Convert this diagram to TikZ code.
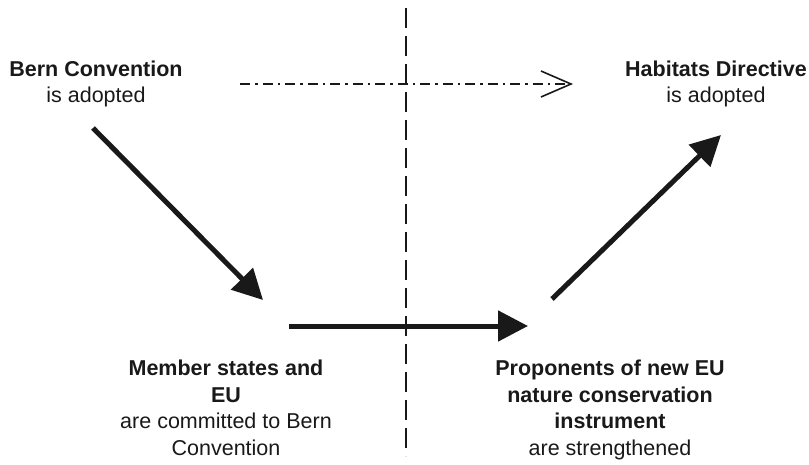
\documentclass[tikz,border=0pt]{standalone}
\usepackage{fontspec}
\setmainfont{Liberation Sans}
\usetikzlibrary{arrows.meta}
\begin{document}
\begin{tikzpicture}[x=1pt,y=-1pt,
  lbl/.style={align=center,font=\fontsize{21.5}{26.5}\selectfont,inner sep=0pt,text=black!90},
  thick arrow/.style={line width=5pt,-{Triangle[length=30pt,width=30pt]},black!90},
  divider/.style={line width=2pt,dash pattern=on 20pt off 8pt,black!90},
  influence/.style={line width=1.6pt,dash pattern=on 10pt off 5pt on 2.5pt off 5pt,
    -{Straight Barb[length=30pt,width=26pt,line width=1.6pt]},black!90}]
\useasboundingbox (0,0) rectangle (809,464);
\node[lbl] (bern) at (96,84) {\textbf{Bern Convention}\\is adopted};
\node[lbl] (hab) at (716,84) {\textbf{Habitats Directive}\\is adopted};
\node[lbl,anchor=north] (mem) at (226,360) {\textbf{Member states and}\\\textbf{EU}\\are committed to Bern\\Convention};
\node[lbl,anchor=north] (prop) at (610,360) {\textbf{Proponents of new EU}\\\textbf{nature conservation}\\\textbf{instrument}\\are strengthened};
\coordinate (dtop) at (406,8);
\coordinate (dbot) at (406,456);
\draw[divider] (dtop) -- (dbot);
\coordinate (a1s) at (93,128);
\coordinate (a1e) at (263,300);
\coordinate (a2s) at (289,326);
\coordinate (a2e) at (528,326);
\coordinate (a3s) at (552,299);
\coordinate (a3e) at (721,135);
\coordinate (dds) at (240,84);
\coordinate (dde) at (573,84);
\draw[thick arrow] (a1s) -- (a1e);
\draw[thick arrow] (a2s) -- (a2e);
\draw[thick arrow] (a3s) -- (a3e);
\draw[influence] (dds) -- (dde);
\end{tikzpicture}
\end{document}
